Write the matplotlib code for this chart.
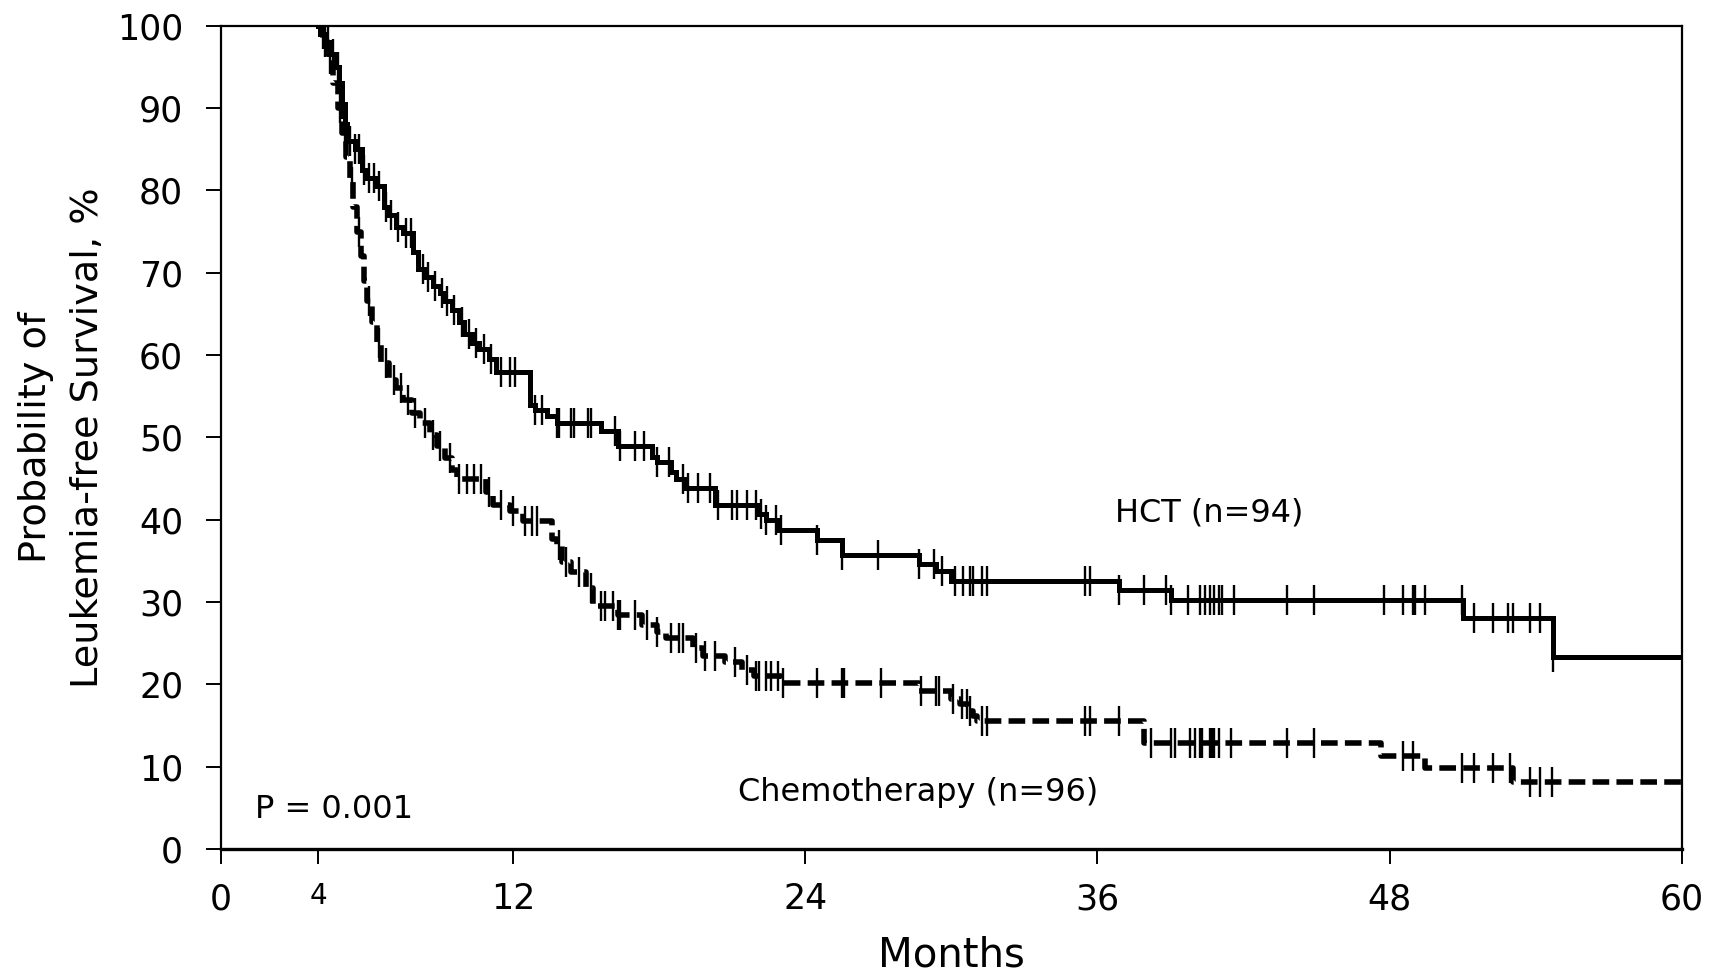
import numpy as np
import matplotlib.pyplot as plt
from matplotlib.transforms import offset_copy

# Kaplan-Meier steps: month of the drop, survival % after it
hct_t = [4.0, 4.1, 4.3, 4.5, 4.7, 4.85, 5.0, 5.1, 5.2, 5.5, 5.8, 6.0, 6.4, 6.7, 6.9, 7.2, 7.5,
         7.9, 8.1, 8.4, 8.7, 9.0, 9.2, 9.5, 9.8, 10.0, 10.3, 10.6, 11.0, 11.3, 12.7, 12.9,
         13.4, 13.8, 15.6, 16.3, 17.7, 17.9, 18.5, 18.7, 19.1, 20.3, 22.1, 22.4, 22.9, 24.5,
         25.5, 28.66, 29.36, 29.97, 36.9, 39.0, 51.0, 54.7, 60.0]
hct_s = [100, 99, 98, 96.5, 95, 93, 90.5, 88, 86, 85, 82.5, 81.5, 80.5, 78, 77, 75.5, 74.8,
         72.5, 70.5, 69.5, 68.4, 67.5, 66.5, 65.5, 64, 62.5, 61.5, 60.7, 59.5, 57.9, 53.9, 53.3,
         52.6, 51.8, 50.8, 49.0, 47.6, 47.0, 45.8, 45.0, 43.8, 41.8, 40.7, 40.0, 38.7, 37.5,
         35.7, 34.6, 33.8, 32.6, 31.4, 30.2, 28.0, 23.3, 23.3]

chemo_t = [4.0, 4.2, 4.4, 4.6, 4.8, 5.0, 5.15, 5.3, 5.45, 5.6, 5.75, 5.9, 6.0, 6.2, 6.4, 6.6,
           6.9, 7.2, 7.5, 7.85, 8.2, 8.6, 8.9, 9.2, 9.5, 9.7, 10.9, 11.2, 11.9, 12.4, 13.6,
           13.8, 14.0, 14.4, 15.0, 15.3, 16.3, 17.3, 17.9, 18.3, 19.4, 19.8, 20.7, 21.4, 21.9,
           23.0, 28.66, 29.97, 30.37, 30.67, 30.87, 31.07, 37.9, 47.65, 49.46, 53.08, 60.0]
chemo_s = [100, 98, 96, 93, 90, 87, 84, 81, 78, 75, 72, 69, 66.5, 64, 61.5, 59,
           57, 56, 54.5, 53, 51.8, 50.3, 49, 47.5, 46, 45, 43.4, 41.8, 41.0, 39.9, 37.7,
           36.9, 34.9, 33.7, 31.7, 29.5, 28.4, 27.2, 26.4, 25.6, 24.4, 23.4, 22.7, 21.8, 21.0,
           20.2, 19.2, 18.2, 17.6, 16.8, 16.2, 15.5, 12.9, 11.3, 9.9, 8.1, 8.1]

# censored observations (months)
hct_cens = [4.2, 4.4, 4.6, 4.8, 5.0, 5.3, 5.5, 5.7, 5.9, 6.1, 6.3, 6.5, 6.8, 7.0, 7.3, 7.6,
            7.8, 8.3, 8.5, 8.8, 9.1, 9.3, 9.6, 9.9, 10.2, 10.5, 10.8, 11.1, 11.5, 11.9, 12.1,
            12.9, 13.2, 13.8, 13.9, 14.4, 14.5, 15.1, 15.2, 16.2, 16.4, 17.0, 17.4, 17.9, 18.4,
            19.0, 19.2, 19.6, 20.1, 20.4, 21.0, 21.2, 21.6, 22.0, 22.2, 22.4, 22.8, 23.0, 24.5,
            25.5, 27.0, 28.66, 29.3, 29.6, 30.17, 30.47, 30.77, 30.87, 31.27, 31.47, 35.5, 35.7,
            36.9, 37.9, 38.8, 39.0, 39.7, 40.2, 40.4, 40.6, 40.8, 41.0, 41.1, 41.6, 43.8, 44.9,
            47.75, 48.55, 48.95, 49.05, 49.45, 50.95, 51.45, 52.25, 52.85, 53.05, 53.75, 54.15,
            54.7]
chemo_cens = [4.3, 4.5, 4.9, 5.1, 5.4, 5.7, 6.1, 6.5, 6.8, 7.1, 7.4, 7.7, 8.0, 8.4, 8.7, 9.0,
              9.4, 9.8, 10.1, 10.4, 10.7, 11.0, 11.5, 12.0, 12.5, 12.8, 13.0, 13.9, 14.2, 14.7,
              15.2, 15.6, 15.8, 16.1, 16.3, 16.4, 17.0, 17.5, 17.9, 18.5, 18.8, 19.0, 19.5, 19.9,
              20.3, 21.1, 21.6, 22.0, 22.1, 22.4, 22.6, 22.9, 23.1, 24.5, 25.5, 25.6, 27.1, 28.75,
              29.35, 29.5, 30.05, 30.45, 30.65, 30.75, 31.25, 31.45, 35.5, 35.7, 36.9, 38.2, 39.0,
              39.2, 39.8, 40.0, 40.2, 40.3, 40.6, 40.7, 40.8, 41.0, 41.5, 43.8, 44.9, 48.55,
              48.95, 50.95, 51.45, 52.25, 52.95, 53.75, 54.15, 54.65]

xticks = [0, 4, 12, 24, 36, 48, 60]
xtick_labels = ['0', '', '12', '24', '36', '48', '60']
yticks = list(range(0, 101, 10))


def level_at(times, surv, x):
    idx = np.searchsorted(times, x, side='right') - 1
    return np.array(surv)[idx]


fig = plt.figure(figsize=(17.25, 9.76), dpi=100)
ax = fig.add_axes([0.1279, 0.1301, 0.8472, 0.8436])

ax.step(hct_t, hct_s, where='post', color='black', lw=3.6, solid_joinstyle='miter')
ax.plot(hct_cens, level_at(hct_t, hct_s, hct_cens), ls='none', marker='|',
        ms=21, mew=1.7, color='black')

ax.step(chemo_t, chemo_s, where='post', color='black', lw=4.0, dashes=(3.0, 1.3))
ax.plot(chemo_cens, level_at(chemo_t, chemo_s, chemo_cens), ls='none', marker='|',
        ms=21, mew=1.7, color='black')

ax.set_xlim(0, 60)
ax.set_ylim(0, 100)
ax.set_xticks(xticks)
ax.set_xticklabels(xtick_labels)
ax.set_yticks(yticks)
ax.tick_params(direction='out', length=11, width=1.4, labelsize=25, colors='black')
ax.tick_params(axis='x', pad=13)
ax.tick_params(axis='y', pad=16)
for sp in ax.spines.values():
    sp.set_linewidth(1.6)
ax.spines['bottom'].set_linewidth(2.4)

# the "4" tick label is smaller, top aligned with the others
tr4 = offset_copy(ax.get_xaxis_transform(), fig=fig, y=-24, units='points')
ax.text(4, 0, '4', transform=tr4, ha='center', va='top', fontsize=20)

ax.set_xlabel('Months', fontsize=29, labelpad=14)
ax.set_ylabel('Probability of\nLeukemia-free Survival, %', fontsize=27.5, labelpad=8,
              linespacing=1.55)

ax.text(40.6, 40.8, 'HCT (n=94)', fontsize=23, ha='center', va='center')
ax.text(28.63, 6.9, 'Chemotherapy (n=96)', fontsize=23, ha='center', va='center')
ax.text(1.41, 4.8, 'P = 0.001', fontsize=23, ha='left', va='center')

fig.savefig('out.png', dpi=100)
